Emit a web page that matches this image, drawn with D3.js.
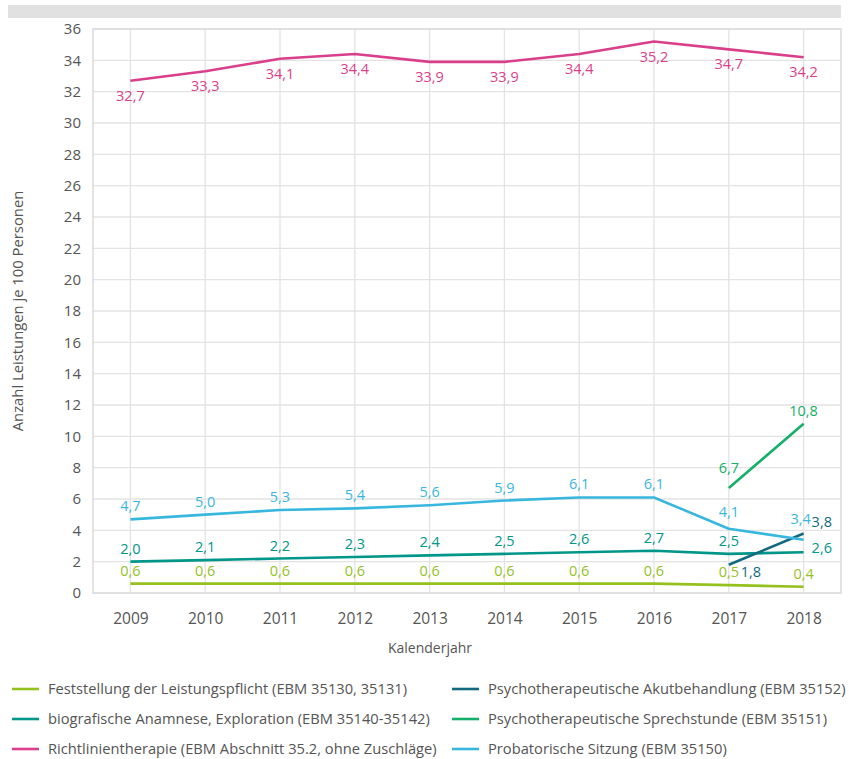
<!DOCTYPE html>
<html>
<head>
<meta charset="utf-8">
<script src="https://cdn.jsdelivr.net/npm/d3@7"></script>
<style>
  body { margin: 0; background: #fff; }
  svg text { font-family: "Open Sans", Lato, sans-serif; }
</style>
</head>
<body>
<svg id="chart" width="849" height="759"></svg>
<script>
// Jahre und Kennzahlen (Anzahl Leistungen je 100 Personen)
const years = ["2009","2010","2011","2012","2013","2014","2015","2016","2017","2018"];
const feststellung = [0.6,0.6,0.6,0.6,0.6,0.6,0.6,0.6,0.5,0.4];
const anamnese = [2.0,2.1,2.2,2.3,2.4,2.5,2.6,2.7,2.5,2.6];
const richtlinie = [32.7,33.3,34.1,34.4,33.9,33.9,34.4,35.2,34.7,34.2];
const akut = [null,null,null,null,null,null,null,null,1.8,3.8];
const sprechstunde = [null,null,null,null,null,null,null,null,6.7,10.8];
const probatorik = [4.7,5.0,5.3,5.4,5.6,5.9,6.1,6.1,4.1,3.4];
const yTicks = [0,2,4,6,8,10,12,14,16,18,20,22,24,26,28,30,32,34,36];

const seriesNames = [
  "Feststellung der Leistungspflicht (EBM 35130, 35131)",
  "biografische Anamnese, Exploration (EBM 35140-35142)",
  "Richtlinientherapie (EBM Abschnitt 35.2, ohne Zuschläge)",
  "Psychotherapeutische Akutbehandlung (EBM 35152)",
  "Psychotherapeutische Sprechstunde (EBM 35151)",
  "Probatorische Sitzung (EBM 35150)"
];

const series = [
  { key: "fest", name: seriesNames[0], values: feststellung, color: "#95c11f" },
  { key: "anam", name: seriesNames[1], values: anamnese, color: "#009689" },
  { key: "richt", name: seriesNames[2], values: richtlinie, color: "#d93f8a" },
  { key: "akut", name: seriesNames[3], values: akut, color: "#136a80" },
  { key: "sprech", name: seriesNames[4], values: sprechstunde, color: "#14af68" },
  { key: "prob", name: seriesNames[5], values: probatorik, color: "#38b7de" }
];

const svg = d3.select("#chart");
const plotL = 93, plotR = 841, plotT = 29, plotB = 593;

// grauer Balken oben
svg.append("rect").attr("x", 8).attr("y", 5).attr("width", 833).attr("height", 13).attr("fill", "#e1e1e1");

const x = d3.scalePoint().domain(years).range([plotL, plotR]).padding(0.5);
const y = d3.scaleLinear().domain([0, 36]).range([plotB, plotT]);

const grid = svg.append("g");
grid.selectAll("line.h").data(yTicks).join("line")
  .attr("x1", plotL).attr("x2", plotR)
  .attr("y1", d => y(d)).attr("y2", d => y(d))
  .attr("stroke", "#e3e3e3").attr("stroke-width", 1.3);
grid.selectAll("line.v").data(years).join("line")
  .attr("x1", d => x(d)).attr("x2", d => x(d))
  .attr("y1", plotT).attr("y2", plotB)
  .attr("stroke", "#e3e3e3").attr("stroke-width", 1.3);
// Rahmen
grid.append("rect").attr("x", plotL).attr("y", plotT).attr("width", plotR - plotL).attr("height", plotB - plotT)
  .attr("fill", "none").attr("stroke", "#dcdcdc").attr("stroke-width", 1.6);

// Achsen
const yAxis = svg.append("g").attr("transform", `translate(${plotL},0)`)
  .call(d3.axisLeft(y).tickValues(yTicks).tickSize(0).tickPadding(12));
yAxis.select(".domain").remove();
yAxis.selectAll("text").attr("font-size", 15).attr("fill", "#555");

const xAxis = svg.append("g").attr("transform", `translate(0,${plotB})`)
  .call(d3.axisBottom(x).tickSize(0).tickPadding(20));
xAxis.select(".domain").remove();
xAxis.selectAll("text").attr("font-size", 15.5).attr("fill", "#555");

svg.append("text").attr("x", (plotL + plotR) / 2 - 37).attr("y", 653).attr("text-anchor", "middle")
  .attr("font-size", 14).attr("fill", "#555").text("Kalenderjahr");
svg.append("text").attr("transform", `translate(23,${(plotT + plotB) / 2}) rotate(-90)`)
  .attr("text-anchor", "middle").attr("font-size", 14.8).attr("fill", "#555")
  .text("Anzahl Leistungen je 100 Personen");

// Linien
const line = d3.line().defined(d => d.v != null).x(d => x(d.year)).y(d => y(d.v));
const fmt = v => v.toFixed(1).replace(".", ",");

series.forEach(s => {
  const pts = years.map((yr, i) => ({ year: yr, v: s.values[i], i }));
  svg.append("path").datum(pts).attr("d", line)
    .attr("fill", "none").attr("stroke", s.color).attr("stroke-width", 2.6)
    .attr("stroke-linejoin", "round");
});

// Wertebeschriftungen
series.forEach(s => {
  const pts = years.map((yr, i) => ({ year: yr, v: s.values[i], i })).filter(d => d.v != null);
  svg.append("g").selectAll("text").data(pts).join("text")
    .attr("font-size", 14.5).attr("fill", s.color)
    .attr("text-anchor", d => {
      if (s.key === "anam" && d.i === 9) return "start";
      if (s.key === "akut") return "start";
      return "middle";
    })
    .attr("x", d => {
      if (s.key === "anam" && d.i === 9) return x(d.year) + 8;
      if (s.key === "akut" && d.i === 8) return x(d.year) + 12;
      if (s.key === "akut" && d.i === 9) return x(d.year) + 8;
      if (s.key === "prob" && d.i === 9) return x(d.year) - 3;
      return x(d.year);
    })
    .attr("y", d => {
      const py = y(d.v);
      if (s.key === "richt") return py + 20;
      if (s.key === "anam" && d.i === 9) return py + 1;
      if (s.key === "akut" && d.i === 8) return py + 12;
      if (s.key === "akut" && d.i === 9) return py - 6;
      if (s.key === "prob" && d.i === 9) return py - 16;
      if (s.key === "prob" && d.i === 8) return py - 12;
      if (s.key === "sprech" && d.i === 8) return py - 15;
      return py - 8;
    })
    .text(d => fmt(d.v));
});

// Legende
const legend = svg.append("g");
series.forEach((s, i) => {
  const col = Math.floor(i / 3), row = i % 3;
  const lx = col === 0 ? 12 : 452;
  const ly = 689 + row * 30;
  legend.append("line").attr("x1", lx).attr("x2", lx + 27).attr("y1", ly).attr("y2", ly)
    .attr("stroke", s.color).attr("stroke-width", 2.6);
  legend.append("text").attr("x", lx + 36).attr("y", ly + 5).attr("font-size", 14.7)
    .attr("fill", "#555").text(s.name);
});
</script>
</body>
</html>
